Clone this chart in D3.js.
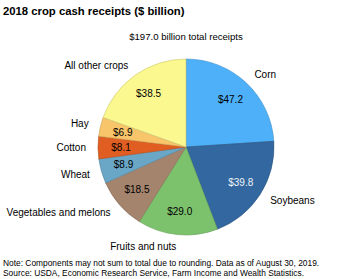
<!DOCTYPE html>
<html>
<head>
<meta charset="utf-8">
<script src="https://cdn.jsdelivr.net/npm/d3@7"></script>
<style>
  body { margin: 0; background: #fff; }
  svg { display: block; font-family: "Liberation Sans", Arial, sans-serif; }
</style>
</head>
<body>
<div id="chart"></div>
<script>
const crops = ["Corn", "Soybeans", "Fruits and nuts", "Vegetables and melons", "Wheat", "Cotton", "Hay", "All other crops"];
const receipts = [47.2, 39.8, 29.0, 18.5, 8.9, 8.1, 6.9, 38.5];
const colors = ["#4db0f8", "#33679f", "#7cc26d", "#a5846d", "#6aa6c6", "#e05e22", "#f8c56a", "#fbf88f"];
const valueColors = ["#000", "#eef3f8", "#000", "#000", "#000", "#000", "#000", "#000"];

const title = "2018 crop cash receipts ($ billion)";
const subtitle = "$197.0 billion total receipts";
const notes = [
  "Note: Components may not sum to total due to rounding. Data as of August 30, 2019.",
  "Source: USDA, Economic Research Service, Farm Income and Wealth Statistics.",
];

const width = 350;
const height = 279;
const cx = 186;
const cy = 147;
const radius = 88;

const svg = d3
  .select("#chart")
  .append("svg")
  .attr("width", width)
  .attr("height", height);

svg
  .append("text")
  .attr("x", 3)
  .attr("y", 15)
  .attr("font-size", 11.3)
  .attr("font-weight", 700)
  .attr("fill", "#000")
  .text(title);

svg
  .append("text")
  .attr("x", cx)
  .attr("y", 40)
  .attr("text-anchor", "middle")
  .attr("font-size", 9.6)
  .text(subtitle);

const data = crops.map((name, i) => ({ name, value: receipts[i], i }));

const pie = d3.pie().sort(null).value((d) => d.value);
const arcs = pie(data);

const arc = d3.arc().innerRadius(0).outerRadius(radius);
const valueArc = d3.arc().innerRadius(65).outerRadius(65);
const labelArc = d3.arc().innerRadius(100).outerRadius(100);

const g = svg.append("g").attr("transform", `translate(${cx},${cy})`);

g.selectAll("path")
  .data(arcs)
  .join("path")
  .attr("d", arc)
  .attr("fill", (d) => colors[d.data.i])
  .attr("stroke", (d) => d3.color(colors[d.data.i]).darker(0.6))
  .attr("stroke-width", 0.6);

g.selectAll("text.value")
  .data(arcs)
  .join("text")
  .attr("class", "value")
  .attr("transform", (d) => `translate(${valueArc.centroid(d)})`)
  .attr("dy", "0.35em")
  .attr("text-anchor", "middle")
  .attr("font-size", 10)
  .attr("fill", (d) => valueColors[d.data.i])
  .text((d) => `$${d3.format(".1f")(d.data.value)}`);

g.selectAll("text.name")
  .data(arcs)
  .join("text")
  .attr("class", "name")
  .attr("transform", (d) => `translate(${labelArc.centroid(d)})`)
  .attr("dy", "0.35em")
  .attr("text-anchor", (d) => (labelArc.centroid(d)[0] < 0 ? "end" : "start"))
  .attr("font-size", 10)
  .attr("fill", "#000")
  .text((d) => d.data.name);

svg
  .append("g")
  .selectAll("text")
  .data(notes)
  .join("text")
  .attr("x", 3)
  .attr("y", (d, i) => 266 + i * 9.5)
  .attr("font-size", 8.4)
  .attr("fill", "#000")
  .text((d) => d);
</script>
</body>
</html>
